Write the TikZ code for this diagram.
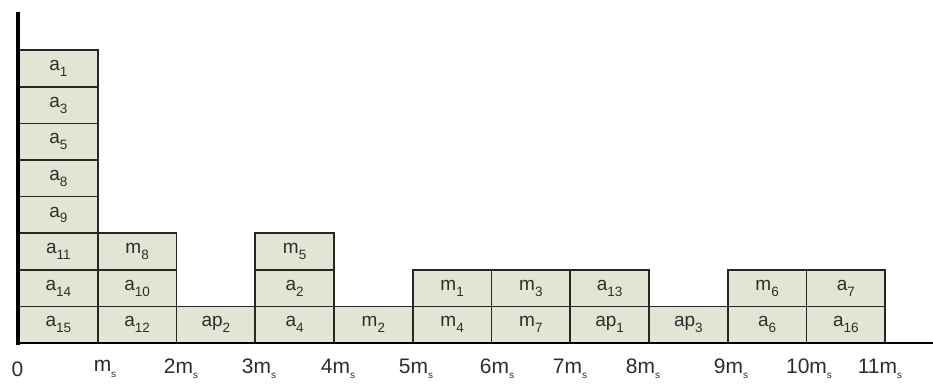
\documentclass[tikz,border=0pt]{standalone}
\usepackage{fontspec}
\setmainfont{Liberation Sans}
\definecolor{cellfill}{RGB}{228,228,212}
\definecolor{inkgray}{RGB}{45,45,45}
\newcommand\cellsub[1]{\raisebox{-0.3em}{\fontsize{13.5}{13.5}\selectfont #1}}
\newcommand\ticksub{\raisebox{-0.25em}{\fontsize{10}{10}\selectfont s}}
\begin{document}
\begin{tikzpicture}[x=1pt,y=-1pt,
  cell/.style={draw=black!85,line width=1.6pt,fill=cellfill,minimum width=78.7pt,minimum height=36.6pt,inner sep=0pt,font=\fontsize{19}{19}\selectfont,text=inkgray},
  ticklabel/.style={font=\fontsize{21}{21}\selectfont,text=inkgray,inner sep=0pt},
  axisline/.style={draw=black,line cap=butt}]
\useasboundingbox (0,0) rectangle (933,384);
\foreach \c/\r/\n/\t in {
  0/0/a15/{a\cellsub{15}}, 0/1/a14/{a\cellsub{14}}, 0/2/a11/{a\cellsub{11}}, 0/3/a9/{a\cellsub{9}},
  0/4/a8/{a\cellsub{8}}, 0/5/a5/{a\cellsub{5}}, 0/6/a3/{a\cellsub{3}}, 0/7/a1/{a\cellsub{1}},
  1/0/a12/{a\cellsub{12}}, 1/1/a10/{a\cellsub{10}}, 1/2/m8/{m\cellsub{8}},
  2/0/ap2/{ap\cellsub{2}},
  3/0/a4/{a\cellsub{4}}, 3/1/a2/{a\cellsub{2}}, 3/2/m5/{m\cellsub{5}},
  4/0/m2/{m\cellsub{2}},
  5/0/m4/{m\cellsub{4}}, 5/1/m1/{m\cellsub{1}},
  6/0/m7/{m\cellsub{7}}, 6/1/m3/{m\cellsub{3}},
  7/0/ap1/{ap\cellsub{1}}, 7/1/a13/{a\cellsub{13}},
  8/0/ap3/{ap\cellsub{3}},
  9/0/a6/{a\cellsub{6}}, 9/1/m6/{m\cellsub{6}},
  10/0/a16/{a\cellsub{16}}, 10/1/a7/{a\cellsub{7}}}
  \node[cell] (\n) at ({19+78.75*(\c+0.5)},{343-36.6*(\r+0.5)}) {\t};
% axes
\coordinate (ytop) at (18,12);
\coordinate (ybot) at (18,345);
\coordinate (xstart) at (17,343);
\coordinate (xend) at (933,343);
\draw[axisline,line width=2.8pt] (xstart) -- (xend);
\draw[axisline,line width=4.5pt] (ytop) -- (ybot);
% tick labels
\node[ticklabel] (t0) at (17.5,369) {0};
\node[ticklabel] (t1) at (105,369) {m\ticksub};
\node[ticklabel] (t2) at (181,369) {2m\ticksub};
\node[ticklabel] (t3) at (259,369) {3m\ticksub};
\node[ticklabel] (t4) at (338,369) {4m\ticksub};
\node[ticklabel] (t5) at (416,369) {5m\ticksub};
\node[ticklabel] (t6) at (497,369) {6m\ticksub};
\node[ticklabel] (t7) at (570,369) {7m\ticksub};
\node[ticklabel] (t8) at (643,369) {8m\ticksub};
\node[ticklabel] (t9) at (731,369) {9m\ticksub};
\node[ticklabel] (t10) at (809,369) {10m\ticksub};
\node[ticklabel] (t11) at (880,369) {11m\ticksub};
\end{tikzpicture}
\end{document}
